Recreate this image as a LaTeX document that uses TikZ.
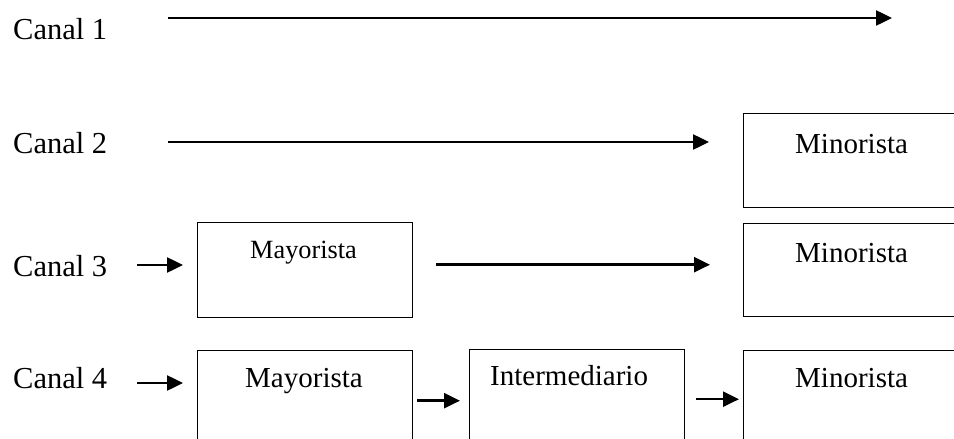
\documentclass[tikz,border=0pt]{standalone}
\usepackage{fontspec}
\setmainfont{Liberation Serif}
\usetikzlibrary{arrows.meta}
\begin{document}
\begin{tikzpicture}[x=1pt,y=-1pt,
  box/.style={draw, line width=1.4pt, rectangle, inner sep=0pt,
    minimum width=215pt, anchor=north west},
  arr/.style={line width=2.5pt, -{Triangle[length=16pt,width=15pt]}},
  txt/.style={inner sep=0pt, anchor=base west, font=\fontsize{29}{34}\selectfont},
  canal/.style={txt, font=\fontsize{30.5}{36}\selectfont}]
\useasboundingbox (0,0) rectangle (954,439);
\clip (0,0) rectangle (954,439);

% channel labels
\node[canal] (c1) at (13,39) {Canal 1};
\node[canal] (c2) at (13,153) {Canal 2};
\node[canal] (c3) at (13,276) {Canal 3};
\node[canal] (c4) at (13,388) {Canal 4};

% boxes
\node[box, minimum height=94pt] (min2) at (743,113) {};
\node[box, minimum height=95pt] (may3) at (197,222) {};
\node[box, minimum height=93pt] (min3) at (743,223) {};
\node[box, minimum height=95pt] (may4) at (197,350) {};
\node[box, minimum height=96pt] (int4) at (469,349) {};
\node[box, minimum height=95pt] (min4) at (743,350) {};

% box texts
\node[txt] (tmin2) at (795,153) {Minorista};
\node[txt, font=\fontsize{26.3}{31}\selectfont] (tmay3) at (250,258) {Mayorista};
\node[txt] (tmin3) at (795,262) {Minorista};
\node[txt] (tmay4) at (245,387) {Mayorista};
\node[txt] (tint4) at (490,385) {Intermediario};
\node[txt] (tmin4) at (795,387) {Minorista};

% connectors
\coordinate (a1s) at (168,18);
\coordinate (a1e) at (892,18);
\draw[arr] (a1s) -- (a1e);

\coordinate (a2s) at (168,142);
\draw[arr, shorten >=34pt] (a2s) -- (a2s -| min2.west);

\coordinate (a3s) at (137,265);
\draw[arr, shorten >=14pt] (a3s) -- (a3s -| may3.west);
\draw[arr, shorten <=23pt, shorten >=33pt]
  ([yshift=5.5pt]may3.east) -- ([yshift=5.5pt]may3.east -| min3.west);

\coordinate (a4s) at (137,383);
\draw[arr, shorten >=14pt] (a4s) -- (a4s -| may4.west);
\draw[arr, shorten <=4pt, shorten >=9pt]
  ([yshift=-2.5pt]may4.east) -- ([yshift=-2.5pt]may4.east -| int4.west);
\draw[arr, shorten <=11pt, shorten >=4pt]
  ([yshift=-1.5pt]int4.east) -- ([yshift=-1.5pt]int4.east -| min4.west);
\end{tikzpicture}
\end{document}
